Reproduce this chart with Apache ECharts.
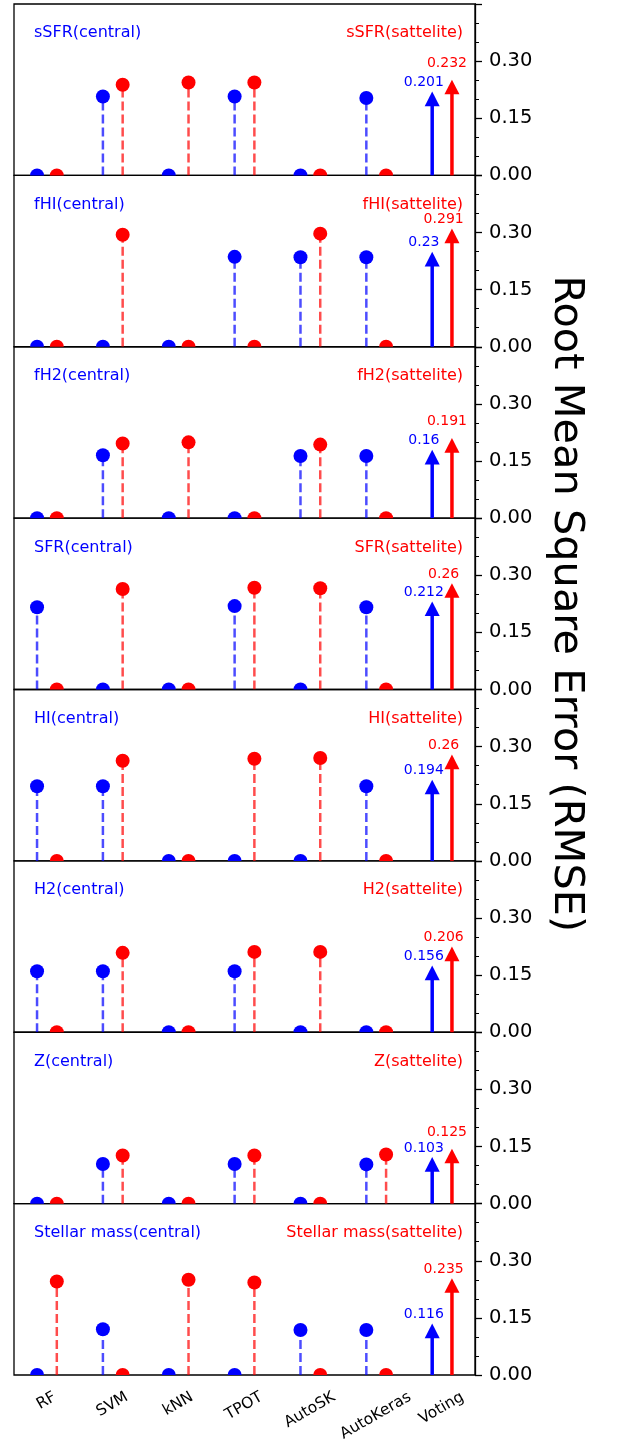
<!DOCTYPE html>
<html><head><meta charset="utf-8">
<script src="https://cdn.jsdelivr.net/npm/echarts@6/dist/echarts.min.js"></script>
<style>html,body{margin:0;padding:0;background:#fff}#c{width:619px;height:1445px}</style>
</head><body><div id="c"></div>
<script>
// ---------- data ----------
const methods = ['RF', 'SVM', 'kNN', 'TPOT', 'AutoSK', 'AutoKeras', 'Voting'];
const properties = ['sSFR', 'fHI', 'fH2', 'SFR', 'HI', 'H2', 'Z', 'Stellar mass'];
const yTickLabels = [0, 0.15, 0.30];

// RMSE per method (RF..AutoKeras) for central / sattelite galaxies
const sSFRCentral   = [0, 0.207, 0, 0.207, 0, 0.203];
const sSFRSatellite = [0, 0.238, 0.244, 0.244, 0, 0];
const fHICentral    = [0, 0, 0, 0.236, 0.235, 0.235];
const fHISatellite  = [0, 0.294, 0, 0, 0.297, 0];
const fH2Central    = [0, 0.165, 0, 0, 0.163, 0.163];
const fH2Satellite  = [0, 0.196, 0.199, 0, 0.193, 0];
const SFRCentral    = [0.216, 0, 0, 0.219, 0, 0.216];
const SFRSatellite  = [0, 0.264, 0, 0.267, 0.266, 0];
const HICentral     = [0.196, 0.196, 0, 0, 0, 0.196];
const HISatellite   = [0, 0.263, 0, 0.268, 0.270, 0];
const H2Central     = [0.160, 0.160, 0, 0.160, 0, 0];
const H2Satellite   = [0, 0.2085, 0, 0.211, 0.211, 0];
const ZCentral      = [0, 0.104, 0, 0.104, 0, 0.103];
const ZSatellite    = [0, 0.1265, 0, 0.1265, 0, 0.129];
const massCentral   = [0, 0.120, 0, 0, 0.118, 0.118];
const massSatellite = [0.2456, 0, 0.25, 0.243, 0, 0];

// Voting (arrows) per property
const votingCentral   = [0.201, 0.23, 0.16, 0.212, 0.194, 0.156, 0.103, 0.116];
const votingSatellite = [0.232, 0.291, 0.191, 0.26, 0.26, 0.206, 0.125, 0.235];

const centralSets   = [sSFRCentral, fHICentral, fH2Central, SFRCentral, HICentral, H2Central, ZCentral, massCentral];
const satelliteSets = [sSFRSatellite, fHISatellite, fH2Satellite, SFRSatellite, HISatellite, H2Satellite, ZSatellite, massSatellite];

// ---------- layout / style ----------
const FONT = 'DejaVu Sans';
const BLUE = '#0000ff', RED = '#ff0000';
const BLUE_STEM = 'rgba(0,0,255,0.7)', RED_STEM = 'rgba(255,0,0,0.7)';
const TOP0 = 4, PH = 171.375, LEFT = 14, RIGHT = 144;
const OFF = 0.15;
const N = properties.length;
const LABEL_FS = 15.5;

const chart = echarts.init(document.getElementById('c'), null, {renderer: 'canvas'});
const mctx = document.createElement('canvas').getContext('2d');
mctx.font = LABEL_FS + 'px "DejaVu Sans"';

const grids = [], xAxes = [], yAxes = [], series = [], titles = [];

function stemRender(color, lineColor) {
  return function (params, api) {
    const x = api.value(0), v = api.value(1);
    const p0 = api.coord([x, 0]), p1 = api.coord([x, v]);
    return {type: 'group', children: [
      {type: 'line', shape: {x1: p0[0], y1: p0[1], x2: p1[0], y2: p1[1]},
       style: {stroke: lineColor, lineWidth: 2.5, lineDash: [9, 4]}},
      {type: 'circle', shape: {cx: p1[0], cy: p1[1], r: 7}, style: {fill: color}}
    ]};
  };
}

function votingRender(idx) {
  return function (params, api) {
    const x = api.value(0), v = api.value(1), side = api.value(2);
    const base = api.coord([x, 0]), tip = api.coord([x, v]);
    const color = side === 0 ? BLUE : RED;
    const hh = 14.7, hw = 15;
    const close = (votingSatellite[idx] - votingCentral[idx]) < 0.04;
    let lift = 16.5, dx = -8.3;
    if (side === 1 && close) { lift = 24; dx = -5; }
    return {type: 'group', children: [
      {type: 'line', shape: {x1: base[0], y1: base[1], x2: tip[0], y2: tip[1]},
       style: {stroke: color, lineWidth: 3.5}},
      {type: 'polygon', shape: {points: [[tip[0], tip[1] - hh / 2], [tip[0] - hw / 2, tip[1] + hh / 2], [tip[0] + hw / 2, tip[1] + hh / 2]]},
       style: {fill: color}},
      {type: 'text', x: tip[0] + dx, y: tip[1] - lift,
       style: {text: String(v), fill: color, font: '14px "DejaVu Sans"', align: 'center', verticalAlign: 'middle'}}
    ]};
  };
}

// rotated method labels under the bottom panel, centred on each category (matplotlib style)
function methodLabelRender(params, api) {
  const idx = api.value(0);
  const name = methods[idx];
  const p = api.coord([idx, 0]);
  const w = mctx.measureText(name).width;
  return {type: 'text', x: p[0] - 0.5, y: p[1] + 21 + w / 4, rotation: Math.PI / 6,
    style: {text: name, fill: '#000', font: LABEL_FS + 'px "DejaVu Sans"', align: 'center', verticalAlign: 'middle'}};
}

for (let i = 0; i < N; i++) {
  const top = TOP0 + i * PH;
  grids.push({left: LEFT, right: RIGHT, top: top, height: PH, show: true,
    borderColor: '#000', borderWidth: 1.3, backgroundColor: 'transparent'});
  xAxes.push({type: 'value', gridIndex: i, min: -0.5, max: 6.5, show: false});
  const ya = {
    type: 'value', gridIndex: i, position: 'right', min: 0, max: 0.45, interval: 0.15,
    axisLine: {show: true, onZero: false, lineStyle: {color: '#000', width: 1.3}},
    axisTick: {show: true, inside: false, length: 7, lineStyle: {color: '#000', width: 1.3}},
    minorTick: {show: true, splitNumber: 3, length: 4, lineStyle: {color: '#000', width: 1}},
    splitLine: {show: false}, minorSplitLine: {show: false},
    axisLabel: {margin: 14, fontSize: 19.5, color: '#000', fontFamily: FONT,
      formatter: v => yTickLabels.some(t => Math.abs(t - v) < 1e-9) ? v.toFixed(2) : ''}
  };
  if (i === 3) {
    ya.name = 'Root Mean Square Error (RMSE)';
    ya.nameLocation = 'middle';
    ya.nameRotate = -90;
    ya.nameGap = 70;
    ya.nameTextStyle = {fontSize: 41.5, color: '#000', fontFamily: FONT};
  }
  yAxes.push(ya);

  const cen = centralSets[i], sat = satelliteSets[i];
  series.push({type: 'custom', xAxisIndex: i, yAxisIndex: i, clip: true,
    renderItem: stemRender(BLUE, BLUE_STEM), data: cen.map((v, j) => [j - OFF, v])});
  series.push({type: 'custom', xAxisIndex: i, yAxisIndex: i, clip: true,
    renderItem: stemRender(RED, RED_STEM), data: sat.map((v, j) => [j + OFF, v])});
  series.push({type: 'custom', xAxisIndex: i, yAxisIndex: i, clip: false,
    renderItem: votingRender(i),
    data: [[6 - OFF, votingCentral[i], 0], [6 + OFF, votingSatellite[i], 1]]});

  titles.push({text: properties[i] + '(central)', left: 34, top: top + 21.3, padding: 0,
    textStyle: {fontSize: 16, fontWeight: 'normal', color: BLUE, fontFamily: FONT}});
  titles.push({text: properties[i] + '(sattelite)', right: 619 - 463, top: top + 21.3, padding: 0,
    textStyle: {fontSize: 16, fontWeight: 'normal', color: RED, fontFamily: FONT}});
}

// bottom category axis (positions of the method labels)
xAxes.push({
  type: 'category', gridIndex: N - 1, position: 'bottom', boundaryGap: true, data: methods,
  axisLine: {show: false}, axisTick: {show: false}, splitLine: {show: false},
  axisLabel: {show: false}
});
series.push({type: 'custom', xAxisIndex: N, yAxisIndex: N - 1, clip: false,
  renderItem: methodLabelRender, data: methods.map((m, j) => [j, 0])});

chart.setOption({
  animation: false,
  backgroundColor: '#fff',
  textStyle: {fontFamily: FONT},
  title: titles,
  grid: grids,
  xAxis: xAxes,
  yAxis: yAxes,
  series: series
});
</script>
</body></html>
